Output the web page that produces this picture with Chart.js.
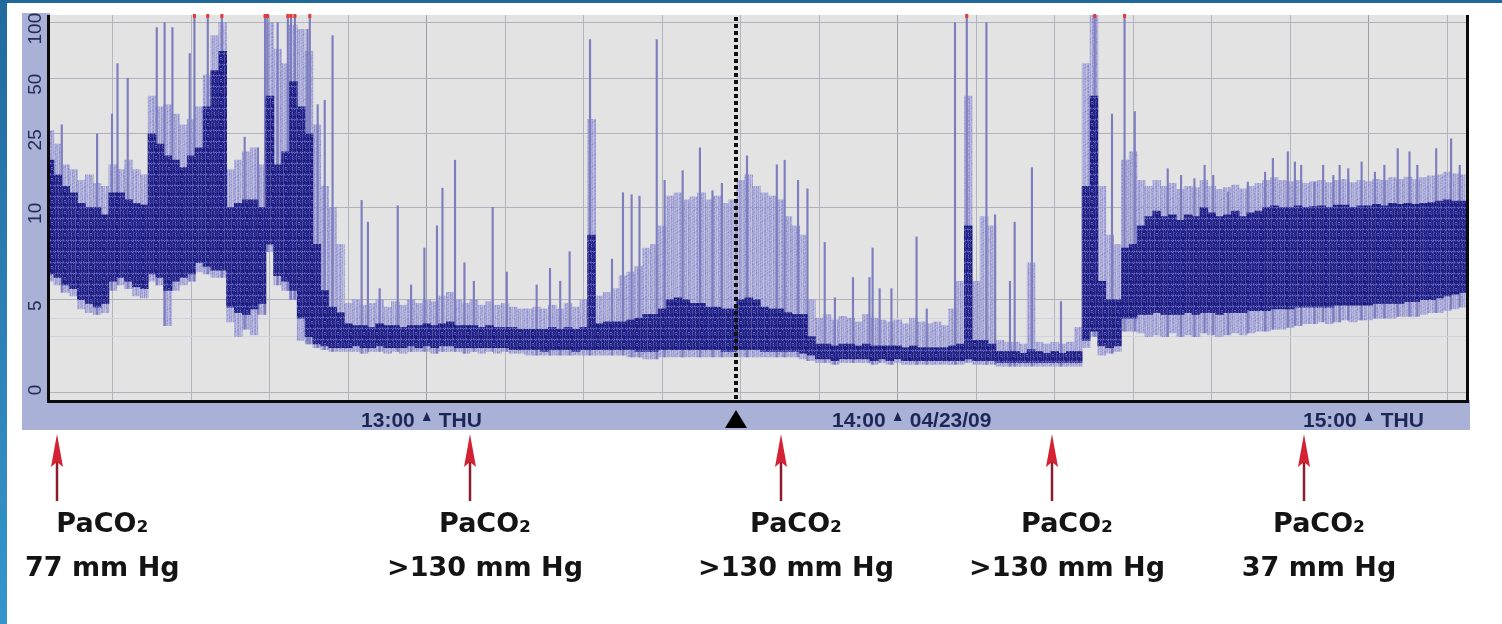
<!DOCTYPE html>
<html>
<head>
<meta charset="utf-8">
<script src="https://cdn.jsdelivr.net/npm/chart.js@4.4.1/dist/chart.umd.min.js"></script>
<style>
  html, body { margin: 0; padding: 0; background: #ffffff; overflow: hidden; }
  canvas { display: block; }
</style>
</head>
<body>
<canvas id="trend" width="1502" height="624"></canvas>
<script>
// aEEG amplitude trend, one bin per minute; x values are minutes after 12:00
const firstMinute = 12;

// upper edge of the light envelope (µV)
const envelopeTop = [
  26, 22, 17, 16, 14, 15, 13.5, 13,
  17, 16, 18, 16, 15, 40, 35, 36, 32, 28,
  30, 35, 52, 85, 100, 16, 18, 20, 21, 17,
  100, 72, 60, 97, 92, 70, 28, 13, 10, 8,
  4.8, 5.0, 4.7, 4.8, 5.0, 4.6, 4.9, 4.7, 5.0, 4.8,
  5.0, 4.9, 5.2, 5.4, 5.0, 4.8, 5.0, 4.7, 4.9, 4.7,
  4.8, 4.6, 4.5, 4.5, 4.6, 4.5, 4.7, 4.5, 4.8, 4.6,
  5.0, 30, 5.2, 5.4, 5.6, 6.3, 6.5, 6.8, 7.8, 8.0,
  9.0, 11.5, 12, 11, 11.4, 12, 11, 11.5, 10.5, 11,
  14, 15, 13, 12, 11.5, 11, 9.5, 9, 8.5, 5,
  4.0, 4.2, 3.9, 4.1, 4.0, 3.8, 4.2, 4.0, 3.9, 3.8,
  3.9, 3.7, 4.0, 3.8, 3.7, 3.8, 3.6, 4.5, 6.0, 40,
  6, 9.5, 9, 2.8, 2.7, 2.7, 2.6, 7, 2.7, 2.6,
  2.7, 2.6, 2.7, 3.5, 60, 110, 13, 8.5, 8, 18,
  20, 14, 13, 14, 13, 13.5, 12.5, 13, 12.8, 14,
  13, 12.5, 12.8, 13.2, 12.6, 13, 13.5, 14, 14.5, 14,
  13.8, 14, 13.5, 13.8, 14, 13.6, 14, 14.2, 13.6, 14,
  13.8, 14.2, 14, 14.5, 14.2, 14.6, 14.2, 14.5, 14.8, 15,
  15.5, 15.2, 15
];

// upper edge of the dense dark band (µV)
const coreTop = [
  18, 15, 13, 12, 10.5, 10, 10, 9.6,
  12, 12, 11, 10.5, 10.3, 25, 22, 19, 18, 16.4,
  19, 21, 35, 55, 70, 10, 10.5, 11, 11, 10,
  40, 17, 20, 48, 35, 25, 8, 5.5, 4.6, 4.3,
  3.7, 3.6, 3.6, 3.5, 3.7, 3.6, 3.6, 3.5, 3.6, 3.6,
  3.7, 3.6, 3.7, 3.8, 3.6, 3.6, 3.6, 3.5, 3.6, 3.5,
  3.5, 3.5, 3.4, 3.4, 3.4, 3.4, 3.5, 3.4, 3.5, 3.4,
  3.5, 8.5, 3.7, 3.8, 3.8, 3.8, 3.9, 4.0, 4.2, 4.2,
  4.5, 5.0, 5.1, 5.0, 4.8, 4.8, 4.6, 4.6, 4.5, 4.5,
  5.0, 5.1, 5.0, 4.6, 4.5, 4.5, 4.3, 4.2, 4.2, 3.0,
  2.6, 2.6, 2.5, 2.6, 2.6, 2.5, 2.6, 2.5, 2.5, 2.5,
  2.5, 2.4, 2.5, 2.4, 2.4, 2.4, 2.4, 2.5, 2.6, 9,
  2.8, 2.8, 2.6, 2.2, 2.2, 2.2, 2.1, 2.3, 2.2, 2.1,
  2.2, 2.1, 2.2, 2.2, 13, 40, 6, 5, 5, 7.8,
  8, 9, 9.5, 9.8, 9.5, 9.6, 9.3, 9.6, 9.5, 10,
  9.7, 9.5, 9.6, 9.8, 9.5, 9.7, 9.8, 10, 10.2, 10,
  10, 10.2, 10, 10.1, 10.2, 10, 10.3, 10.3, 10, 10.2,
  10.2, 10.4, 10.2, 10.5, 10.4, 10.5, 10.4, 10.5, 10.6, 10.8,
  11, 10.8, 10.8
];

// lower edge of the dense dark band (µV)
const coreBottom = [
  6.4, 6.2, 5.8, 5.6, 5.0, 4.8, 4.6, 4.8,
  6.0, 6.2, 6.0, 5.7, 5.6, 6.4, 6.2, 5.5, 6.0, 6.2,
  6.4, 7.0, 6.8, 6.6, 6.6, 4.6, 4.3, 4.2, 4.5, 4.8,
  8.0, 6.3, 6.0, 5.5, 4.0, 3.0, 2.6, 2.5, 2.4, 2.4,
  2.4, 2.5, 2.4, 2.4, 2.5, 2.4, 2.4, 2.4, 2.5, 2.4,
  2.5, 2.4, 2.5, 2.5, 2.4, 2.4, 2.4, 2.4, 2.4, 2.4,
  2.4, 2.3, 2.3, 2.3, 2.3, 2.2, 2.3, 2.3, 2.3, 2.2,
  2.3, 2.3, 2.3, 2.3, 2.3, 2.3, 2.3, 2.2, 2.2, 2.2,
  2.3, 2.3, 2.3, 2.3, 2.3, 2.3, 2.3, 2.3, 2.2, 2.2,
  2.3, 2.3, 2.3, 2.2, 2.2, 2.2, 2.2, 2.2, 2.1, 2.0,
  1.8, 1.8, 1.7, 1.8, 1.8, 1.8, 1.8, 1.7, 1.8, 1.7,
  1.8, 1.7, 1.7, 1.7, 1.7, 1.7, 1.7, 1.7, 1.7, 1.8,
  1.7, 1.7, 1.7, 1.6, 1.6, 1.6, 1.6, 1.6, 1.6, 1.6,
  1.6, 1.6, 1.6, 1.6, 2.8, 3.3, 2.5, 2.4, 2.5, 4.0,
  4.0, 4.2, 4.2, 4.3, 4.2, 4.2, 4.2, 4.3, 4.2, 4.3,
  4.3, 4.2, 4.3, 4.3, 4.3, 4.4, 4.4, 4.4, 4.5, 4.5,
  4.5, 4.6, 4.6, 4.6, 4.6, 4.6, 4.7, 4.7, 4.7, 4.7,
  4.7, 4.8, 4.8, 4.8, 4.8, 4.9, 4.9, 5.0, 5.0, 5.1,
  5.2, 5.3, 5.4
];

// lower margin of the trace (µV)
const lowerMargin = [
  6.0, 5.8, 5.4, 5.2, 4.5, 4.3, 4.2, 4.3,
  5.5, 5.8, 5.6, 5.2, 5.1, 6.0, 5.8, 3.6, 5.5, 5.8,
  6.0, 6.5, 6.4, 6.2, 6.2, 3.8, 3.0, 3.4, 3.1, 4.2,
  7.6, 5.8, 5.5, 5.0, 2.8, 2.6, 2.4, 2.3, 2.2, 2.2,
  2.2, 2.2, 2.1, 2.2, 2.2, 2.1, 2.2, 2.1, 2.2, 2.2,
  2.2, 2.1, 2.2, 2.2, 2.2, 2.1, 2.2, 2.1, 2.2, 2.1,
  2.2, 2.1, 2.1, 2.0, 2.0, 2.0, 2.0, 2.0, 2.0, 2.0,
  2.0, 2.0, 2.0, 2.0, 2.0, 2.0, 1.9, 1.9, 1.8, 1.8,
  1.9, 1.9, 1.9, 1.9, 1.9, 1.9, 1.9, 1.9, 1.9, 1.9,
  1.9, 1.9, 1.9, 1.9, 1.9, 1.9, 1.9, 1.9, 1.8, 1.7,
  1.6, 1.6, 1.5, 1.6, 1.6, 1.6, 1.6, 1.5, 1.6, 1.5,
  1.6, 1.5, 1.5, 1.5, 1.5, 1.5, 1.5, 1.5, 1.5, 1.6,
  1.5, 1.5, 1.5, 1.4, 1.4, 1.4, 1.4, 1.4, 1.4, 1.4,
  1.4, 1.4, 1.4, 1.4, 2.4, 3.0, 2.0, 2.1, 2.2, 3.3,
  3.3, 3.2, 3.0, 3.1, 3.0, 3.2, 3.0, 3.1, 3.0, 3.2,
  3.1, 3.0, 3.1, 3.2, 3.1, 3.2, 3.3, 3.3, 3.4, 3.4,
  3.5, 3.6, 3.7, 3.7, 3.8, 3.7, 3.8, 3.9, 3.8, 3.9,
  3.9, 4.0, 4.0, 4.0, 4.1, 4.1, 4.1, 4.2, 4.3, 4.3,
  4.4, 4.5, 4.6
];

// isolated tall excursions: time (min after 12:00) and peak (µV); peaks above the scale are off-range
const spikeMinutes = [
  13.5, 18.0, 19.9, 20.6, 21.9, 25.6, 26.6, 27.6, 29.8, 30.4, 32.1, 33.9,
  36.8, 38.5, 39.4, 39.7, 41.0, 42.3, 42.7, 43.2, 44.8, 45.1, 46.1, 47.0, 48.0,
  51.7, 52.5, 54.0, 56.3, 58.0, 59.7, 61.3, 62.0, 63.6, 64.8, 66.0, 68.4, 70.2,
  74.0, 75.7, 77.0, 78.2, 80.8, 83.6, 85.0, 86.1, 87.1, 89.3, 90.3, 92.6, 94.8,
  96.4, 97.6, 100.8, 104.6, 105.6, 107.3, 108.5, 110.7, 112.0, 114.3, 116.4,
  116.8, 117.7, 119.2, 122.4, 123.7, 127.3, 128.8, 131.3, 132.4, 134.3, 134.9,
  137.1, 140.8, 145.1, 147.3, 148.9, 150.2, 154.4, 156.1, 157.8, 159.1, 160.2,
  162.1, 164.6, 166.8, 167.8, 169.7, 170.6, 171.4, 173.1, 174.2, 175.5, 176.3,
  177.4, 179.1, 180.8, 182.0, 183.7, 185.2, 186.2, 188.6, 190.5, 191.6
];
const spikePeaks = [
  28, 25, 32, 60, 50, 94, 100, 94, 68, 130, 130, 130,
  24, 21, 130, 130, 100, 130, 130, 130, 92, 130, 36, 38, 85,
  10.9, 9.2, 5.6, 10.2, 5.8, 7.8, 9.0, 12.7, 18, 7.0, 6.0, 10, 6.5,
  5.8, 6.7, 6.0, 7.6, 81, 7.2, 12, 11.7, 11.5, 81, 14, 15.8, 21,
  12.3, 13.5, 19, 17, 18, 14, 12.6, 8.1, 5.1, 6.2, 6.2,
  7.8, 5.6, 5.6, 8.4, 4.5, 100, 130, 100, 9.6, 6.0, 9.2,
  16.4, 4.9, 130, 32, 130, 33, 16.2, 14.9, 14.3, 16.9, 14.9,
  12.1, 13.7, 15.5, 18.4, 20, 17.6, 16.9, 13.7, 16.9, 14.9, 16.9,
  16.2, 17.6, 15.5, 16.9, 20.8, 20, 16.9, 20.8, 23.5, 16.9
];

// axes
const yLabelValues = [0, 5, 10, 25, 50, 100];
const yGridValues = [0, 3, 4, 5, 10, 25, 50, 100];
const xGridMinutes = [20, 30, 40, 50, 60, 70, 80, 90, 100, 110, 120, 130, 140, 150, 160, 170, 180, 190];
const hourMinutes = [60, 120, 180];
const hourLabels = ['13:00', '14:00', '15:00'];
const dateLabels = ['THU', '04/23/09', 'THU'];
const cursorMinute = 99.4;

// blood-gas samples
const sampleMinutes = [12.9, 65.5, 105.1, 139.6, 171.8];
const sampleNames = ['PaCO₂', 'PaCO₂', 'PaCO₂', 'PaCO₂', 'PaCO₂'];
const sampleValues = ['77 mm Hg', '>130 mm Hg', '>130 mm Hg', '>130 mm Hg', '37 mm Hg'];

// semi-logarithmic amplitude axis: linear 0–10 µV, logarithmic 10–100 µV
const posOf = v => (v <= 10 ? v : 10 + 10 * Math.log10(v / 10));
const valueOf = p => (p <= 10 ? p : 10 * Math.pow(10, (p - 10) / 10));
class AmplitudeScale extends Chart.LinearScale {
  buildTicks() { return yGridValues.map(v => ({ value: v })); }
  getPixelForValue(v) {
    const lo = posOf(this.min), hi = posOf(this.max);
    return this.getPixelForDecimal((posOf(v) - lo) / (hi - lo));
  }
  getValueForPixel(px) {
    const lo = posOf(this.min), hi = posOf(this.max);
    return valueOf(lo + this.getDecimalForPixel(px) * (hi - lo));
  }
}
AmplitudeScale.id = 'amplitude';
AmplitudeScale.defaults = Chart.LinearScale.defaults;
Chart.register(AmplitudeScale);

// textured fills imitate the dense vertical sweeps of the monitor trace
function sweepTexture(rgb, alphas, shades) {
  const w = alphas.length, h = 11;
  const c = document.createElement('canvas');
  c.width = w; c.height = h;
  const g = c.getContext('2d');
  for (let i = 0; i < w; i++) {
    for (let j = 0; j < h; j++) {
      const s = shades[(i * 7 + j * 5 + ((i * j) % 3)) % shades.length];
      const col = rgb.map(ch => Math.max(0, Math.min(255, ch + s)));
      g.fillStyle = `rgba(${col[0]},${col[1]},${col[2]},${alphas[i]})`;
      g.fillRect(i, j, 1, 1);
    }
  }
  return g.createPattern(c, 'repeat');
}
const envelopeFill = sweepTexture([146, 146, 208],
  [0.95, 0.55, 0.85, 0.4, 0.9, 0.65, 0.8, 0.45, 0.95, 0.6, 0.85, 0.5, 0.75, 0.65, 0.95, 0.45, 0.8],
  [0, 12, -10, 20, -4, 6, -14, 16, 2, -8, 10]);
const coreFill = sweepTexture([28, 28, 128],
  [1, 0.9, 1, 0.75, 1, 0.95, 0.8, 1, 0.9, 1, 0.7, 1, 0.95],
  [0, 8, -6, 30, 4, -8, 48, 2, 14, -4, 70, 6, -2, 22]);

const binMinutes = envelopeTop.map((_, i) => firstMinute + i);
const envelopeData = binMinutes.map((m, i) => ({ x: m, y: [lowerMargin[i], envelopeTop[i]] }));
const coreData = binMinutes.map((m, i) => ({ x: m, y: [coreBottom[i], coreTop[i]] }));
const spikeData = spikeMinutes.map((m, k) => {
  const i = Math.min(lowerMargin.length - 1, Math.max(0, Math.round(m) - firstMinute));
  return { x: m, y: [lowerMargin[i], spikePeaks[k]] };
});

const frame = {
  id: 'frame',
  beforeDraw(chart) {
    const { ctx, chartArea: a } = chart;
    ctx.save();
    ctx.fillStyle = '#ffffff';
    ctx.fillRect(0, 0, chart.width, chart.height);
    const side = ctx.createLinearGradient(0, 0, 0, chart.height);
    side.addColorStop(0, '#216a9c');
    side.addColorStop(1, '#3596cc');
    ctx.fillStyle = side;
    ctx.fillRect(0, 0, 7, chart.height);
    ctx.fillStyle = '#20679a';
    ctx.fillRect(0, 0, chart.width, 3);
    ctx.fillStyle = '#aab1d6';
    ctx.fillRect(22, a.top - 2, a.left - 22, a.bottom - a.top + 32);
    ctx.fillRect(22, a.bottom, a.right - 22 + 4, 30);
    ctx.fillStyle = '#e3e3e3';
    ctx.fillRect(a.left, a.top, a.right - a.left, a.bottom - a.top);
    ctx.restore();
  },
  afterDraw(chart) {
    const { ctx, chartArea: a, scales: { x, y } } = chart;
    ctx.save();

    // off-range markers along the top edge
    ctx.fillStyle = '#e23a3a';
    spikeMinutes.forEach((m, k) => {
      if (spikePeaks[k] > y.max) {
        const px = x.getPixelForValue(m);
        ctx.fillRect(px - 1.5, a.top - 1, 3, 4);
      }
    });

    // axis frame
    ctx.fillStyle = '#0b0b0b';
    ctx.fillRect(a.left - 3, a.top, 3, a.bottom - a.top + 3);
    ctx.fillRect(a.left - 3, a.bottom, a.right - a.left + 6, 3);
    ctx.fillRect(a.right, a.top, 3, a.bottom - a.top + 3);

    // event cursor
    const cx = Math.round(x.getPixelForValue(cursorMinute));
    ctx.strokeStyle = '#111111';
    ctx.lineWidth = 4;
    ctx.setLineDash([4, 3]);
    ctx.beginPath();
    ctx.moveTo(cx, a.top + 2);
    ctx.lineTo(cx, a.bottom);
    ctx.stroke();
    ctx.setLineDash([]);
    ctx.fillStyle = '#000000';
    ctx.beginPath();
    ctx.moveTo(cx, a.bottom + 10);
    ctx.lineTo(cx - 11, a.bottom + 28);
    ctx.lineTo(cx + 11, a.bottom + 28);
    ctx.closePath();
    ctx.fill();

    // time axis labels
    ctx.fillStyle = '#1b2757';
    ctx.font = 'bold 21px "Liberation Sans", Arial, sans-serif';
    ctx.textBaseline = 'alphabetic';
    hourMinutes.forEach((m, i) => {
      const hx = x.getPixelForValue(m);
      ctx.textAlign = 'right';
      ctx.fillText(hourLabels[i], hx - 12, a.bottom + 27);
      ctx.textAlign = 'left';
      ctx.fillText(dateLabels[i], hx + 12, a.bottom + 27);
      ctx.beginPath();
      ctx.moveTo(hx, a.bottom + 12);
      ctx.lineTo(hx - 4, a.bottom + 21);
      ctx.lineTo(hx + 4, a.bottom + 21);
      ctx.closePath();
      ctx.fill();
    });

    // amplitude labels, rotated
    ctx.fillStyle = '#222c58';
    ctx.font = '19px "Liberation Sans", Arial, sans-serif';
    ctx.textAlign = 'center';
    ctx.textBaseline = 'middle';
    yLabelValues.forEach(v => {
      const cy = Math.min(y.getPixelForValue(v) + 6, a.bottom - 10);
      ctx.save();
      ctx.translate(35.5, cy);
      ctx.rotate(-Math.PI / 2);
      ctx.fillText(String(v), 0, 0);
      ctx.restore();
    });

    // blood-gas sample arrows and values
    ctx.font = 'bold 27px "DejaVu Sans", sans-serif';
    sampleMinutes.forEach((m, i) => {
      const ax = Math.round(x.getPixelForValue(m));
      ctx.strokeStyle = '#8a1c2e';
      ctx.lineWidth = 2.5;
      ctx.beginPath();
      ctx.moveTo(ax, 458);
      ctx.lineTo(ax, 501);
      ctx.stroke();
      ctx.fillStyle = '#d42232';
      ctx.beginPath();
      ctx.moveTo(ax, 434);
      ctx.lineTo(ax - 6, 467);
      ctx.lineTo(ax, 462);
      ctx.lineTo(ax + 6, 467);
      ctx.closePath();
      ctx.fill();

      const w = Math.max(ctx.measureText(sampleNames[i]).width, ctx.measureText(sampleValues[i]).width);
      const tx = Math.max(ax + 15, 25 + w / 2);
      ctx.fillStyle = '#141414';
      ctx.textAlign = 'center';
      ctx.textBaseline = 'alphabetic';
      ctx.fillText(sampleNames[i], tx, 532);
      ctx.fillText(sampleValues[i], tx, 576);
    });
    ctx.restore();
  }
};

new Chart(document.getElementById('trend'), {
  type: 'bar',
  data: {
    datasets: [
      { label: 'envelope', data: envelopeData, backgroundColor: envelopeFill, barThickness: 8, grouped: false, order: 3, clip: 0 },
      { label: 'excursions', data: spikeData, backgroundColor: '#7e7ebf', barThickness: 1.5, grouped: false, order: 2, clip: 0 },
      { label: 'core', data: coreData, backgroundColor: coreFill, barThickness: 8, grouped: false, order: 1, clip: 0 }
    ]
  },
  options: {
    responsive: false,
    devicePixelRatio: 1,
    animation: false,
    events: [],
    layout: { padding: { left: 50, top: 15, right: 36, bottom: 224 } },
    plugins: { legend: { display: false }, tooltip: { enabled: false } },
    scales: {
      x: {
        type: 'linear',
        min: 12,
        max: 192.4,
        offset: false,
        z: 1,
        afterBuildTicks: s => { s.ticks = xGridMinutes.map(v => ({ value: v })); },
        ticks: { display: false },
        border: { display: false },
        grid: {
          offset: false,
          drawTicks: false,
          lineWidth: 1,
          color: c => (c.tick && hourMinutes.includes(c.tick.value) ? '#9d9da8' : '#b4b4be')
        }
      },
      y: {
        type: 'amplitude',
        min: -0.43,
        max: 110,
        z: 1,
        ticks: { display: false, callback: v => String(v) },
        border: { display: false },
        grid: {
          drawTicks: false,
          lineWidth: 1,
          color: c => (c.tick && yLabelValues.includes(c.tick.value) ? '#b2b2bc' : '#d2d2dc')
        }
      }
    }
  },
  plugins: [frame]
});
</script>
</body>
</html>
